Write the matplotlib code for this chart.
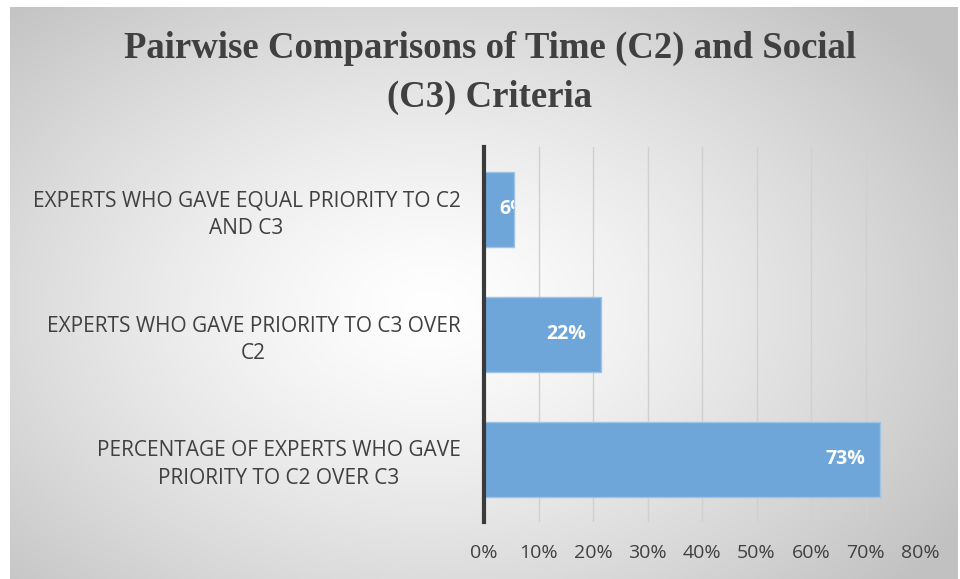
import numpy as np
import matplotlib.pyplot as plt

categories = ['PERCENTAGE OF EXPERTS WHO GAVE\nPRIORITY TO C2 OVER C3',
              'EXPERTS WHO GAVE PRIORITY TO C3 OVER\nC2',
              'EXPERTS WHO GAVE EQUAL PRIORITY TO C2\nAND C3']
values = [72.7, 21.5, 5.5]
valueLabels = ['73%', '22%', '6%']
xTicks = [0, 10, 20, 30, 40, 50, 60, 70, 80]

textColor = '#404040'
barColor = '#6fa6da'

fig = plt.figure(figsize=(9.6, 5.79), dpi=100)

# radial grey background of the chart area
bg = fig.add_axes([10 / 960, 0, 948 / 960, 572 / 579])
h, w = 572, 948
yy, xx = np.mgrid[0:h, 0:w]
r = np.sqrt(((xx - 420) / 620) ** 2 + ((yy - 300) / 420) ** 2)
r = np.clip(r, 0, 1)
shade = 1.0 - 0.24 * r ** 1.3
bg.imshow(np.dstack([shade, shade, shade]), aspect='auto', extent=(0, 1, 0, 1))
bg.axis('off')

ax = fig.add_axes([484 / 960, 1 - 521.5 / 579, 436 / 960, 375 / 579])
ax.patch.set_alpha(0)

y = np.arange(len(categories))
bars = ax.barh(y, values, height=0.6, color=barColor, edgecolor='#9dc3e6', linewidth=1, zorder=3)

for bar, val, lab in zip(bars, values, valueLabels):
    if val < 10:
        t = ax.annotate(lab, (0, bar.get_y() + bar.get_height() / 2), xytext=(11, 0),
                        textcoords='offset points', ha='left', va='center',
                        color='white', fontsize=14, fontweight='bold', family='Open Sans', zorder=4)
    else:
        t = ax.annotate(lab, (val, bar.get_y() + bar.get_height() / 2), xytext=(-11, 0),
                        textcoords='offset points', ha='right', va='center',
                        color='white', fontsize=14, fontweight='bold', family='Open Sans', zorder=4)
    t.set_clip_path(bar)

ax.set_xlim(0, 80)
ax.set_ylim(-0.5, 2.5)
ax.set_xticks(xTicks)
ax.set_xticklabels([f'{t}%' for t in xTicks], fontsize=14, color=textColor, family='Open Sans')
ax.set_yticks(y)
ax.set_yticklabels(categories, fontsize=15, color=textColor, family='Open Sans',
                   multialignment='center', linespacing=1.4)
ax.tick_params(axis='x', length=0, pad=16)
ax.tick_params(axis='y', length=0, pad=17)
ax.grid(axis='x', color='#d0d0d0', linewidth=1, zorder=0)

for s in ['top', 'right', 'bottom']:
    ax.spines[s].set_visible(False)
ax.spines['left'].set_color('#3a3a3a')
ax.spines['left'].set_linewidth(3)
ax.spines['left'].set_zorder(5)

fig.text(490 / 960, 1 - 73 / 579, 'Pairwise Comparisons of Time (C2) and Social\n(C3) Criteria',
         ha='center', va='center', fontsize=26.5, fontweight='bold', color=textColor,
         family='Liberation Serif', linespacing=1.5)

fig.savefig('out.png', dpi=100)
